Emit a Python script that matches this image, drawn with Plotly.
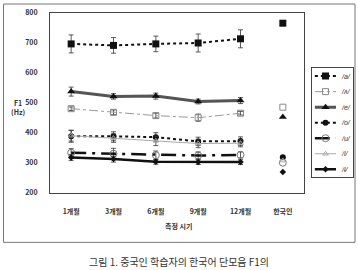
import plotly.graph_objects as go

periods = ["1개월", "3개월", "6개월", "9개월", "12개월"]
native_label = "한국인"
categories = periods + [native_label]

vowels = ["/a/", "/ʌ/", "/e/", "/o/", "/u/", "/i/", "/ɨ/"]

a_f1 = [697, 692, 697, 700, 714]
a_err = [30, 26, 26, 30, 30]
a_kor = 766

v_f1 = [481, 469, 458, 451, 466]
v_err = [6, 8, 8, 12, 6]
v_kor = 486

e_f1 = [538, 522, 523, 505, 508]
e_err = [15, 9, 10, 8, 10]
e_kor = 453

o_f1 = [389, 389, 386, 372, 373]
o_err = [20, 15, 15, 14, 14]
o_kor = 319

u_f1 = [334, 331, 326, 325, 327]
u_err = [14, 18, 14, 12, 10]
u_kor = 301

i_f1 = [391, 383, 374, 365, 366]
i_err = [18, 14, 16, 14, 12]
i_kor = 308

eu_f1 = [318, 313, 304, 303, 303]
eu_err = [10, 10, 8, 8, 8]
eu_kor = 270

series = [
    (a_f1, a_err, a_kor),
    (v_f1, v_err, v_kor),
    (e_f1, e_err, e_kor),
    (o_f1, o_err, o_kor),
    (u_f1, u_err, u_kor),
    (i_f1, i_err, i_kor),
    (eu_f1, eu_err, eu_kor),
]

styles = [
    dict(line=dict(color="#111", width=2, dash="dot"), marker=dict(symbol="square", size=7, color="#111")),
    dict(line=dict(color="#999", width=1, dash="dashdot"), marker=dict(symbol="square-open", size=6, color="#888")),
    dict(line=dict(color="#555", width=3), marker=dict(symbol="triangle-up", size=7, color="#111")),
    dict(line=dict(color="#111", width=2, dash="dot"), marker=dict(symbol="circle", size=6, color="#111")),
    dict(line=dict(color="#111", width=2.5, dash="longdashdot"), marker=dict(symbol="circle-open", size=7, color="#777")),
    dict(line=dict(color="#aaa", width=1), marker=dict(symbol="triangle-up-open", size=5, color="#aaa")),
    dict(line=dict(color="#111", width=2.5), marker=dict(symbol="diamond", size=5, color="#111")),
]

W, H = 358, 270
L, R, T, B = 50, 4, 12.5, 77
pw, ph = W - L - R, H - T - B
PLOT_RIGHT = 304
LEG_X0, LEG_X1, LEG_Y0, LEG_Y1 = 312, 353, 68, 177


def px(x):
    return (x - L) / pw


def py(y):
    return (H - B - y) / ph


fig = go.Figure()
for name, (vals, errs, kor), st in zip(vowels, series, styles):
    fig.add_trace(go.Scatter(
        x=periods, y=vals, name=name, mode="lines+markers", showlegend=False,
        line=st["line"], marker=st["marker"],
        error_y=dict(type="data", array=errs, color="#333", thickness=0.8, width=2.5),
    ))
    fig.add_trace(go.Scatter(
        x=[native_label], y=[kor], mode="markers", showlegend=False,
        marker=st["marker"],
    ))

# legend box drawn on its own small axes
leg_annotations = []
for k, (name, st) in enumerate(zip(vowels, styles)):
    fig.add_trace(go.Scatter(
        x=[0.07, 0.585], y=[k, k], mode="lines", line=st["line"],
        xaxis="x2", yaxis="y2", showlegend=False, hoverinfo="skip",
    ))
    fig.add_trace(go.Scatter(
        x=[0.33], y=[k], mode="markers", marker=st["marker"],
        xaxis="x2", yaxis="y2", showlegend=False, hoverinfo="skip",
    ))
    leg_annotations.append(dict(
        text=f"<i>{name}</i>", x=0.66, y=k, xref="x2", yref="y2",
        xanchor="left", yanchor="middle", showarrow=False,
        font=dict(size=7, family="Liberation Sans", color="#333"),
    ))

fig.update_layout(
    width=W, height=H,
    margin=dict(l=L, r=R, t=T, b=B),
    paper_bgcolor="white", plot_bgcolor="white",
    font=dict(family="Noto Sans CJK KR", color="#333"),
    showlegend=False,
    xaxis=dict(
        domain=[0, px(PLOT_RIGHT)],
        categoryorder="array", categoryarray=categories, range=[-0.5, 5.5],
        showline=True, mirror=True, linecolor="#444", linewidth=1,
        showgrid=False, ticks="", ticklabelstandoff=12,
        tickfont=dict(size=7, family="Noto Sans CJK KR", color="#333", weight="bold"),
    ),
    yaxis=dict(
        range=[200, 800], dtick=100, showline=True, mirror=True,
        linecolor="#444", linewidth=1, showgrid=False, ticks="", zeroline=False,
        ticklabelstandoff=10,
        tickfont=dict(size=7, family="Noto Sans CJK KR", color="#333", weight="bold"),
    ),
    xaxis2=dict(
        domain=[px(LEG_X0), px(LEG_X1)], range=[0, 1], anchor="y2",
        showline=True, mirror=True, linecolor="#444", linewidth=1,
        showgrid=False, zeroline=False, showticklabels=False, ticks="",
    ),
    yaxis2=dict(
        domain=[py(LEG_Y1), py(LEG_Y0)], range=[6.5, -0.5], anchor="x2",
        showline=True, mirror=True, linecolor="#444", linewidth=1,
        showgrid=False, zeroline=False, showticklabels=False, ticks="",
    ),
    shapes=[dict(type="rect", xref="paper", yref="paper",
                 x0=px(3.5), x1=px(355), y0=py(242.5), y1=py(3.5),
                 line=dict(color="#777", width=1))],
    annotations=[
        dict(text="<b>F1<br>(Hz)</b>", x=px(18), y=py(107), xref="paper", yref="paper",
             xanchor="center", yanchor="middle",
             showarrow=False, font=dict(size=7, color="#333")),
        dict(text="<b>측정 시기</b>", x=px(178), y=py(226), xref="paper", yref="paper",
             xanchor="center", yanchor="middle",
             showarrow=False, font=dict(size=7, color="#333")),
        dict(text="그림 1. 중국인 학습자의 한국어 단모음 F1의", x=px(179), y=py(262),
             xref="paper", yref="paper", showarrow=False,
             xanchor="center", yanchor="middle",
             font=dict(size=10, color="#333", family="Noto Sans CJK KR")),
    ] + leg_annotations,
)

fig.write_html("out.html")
